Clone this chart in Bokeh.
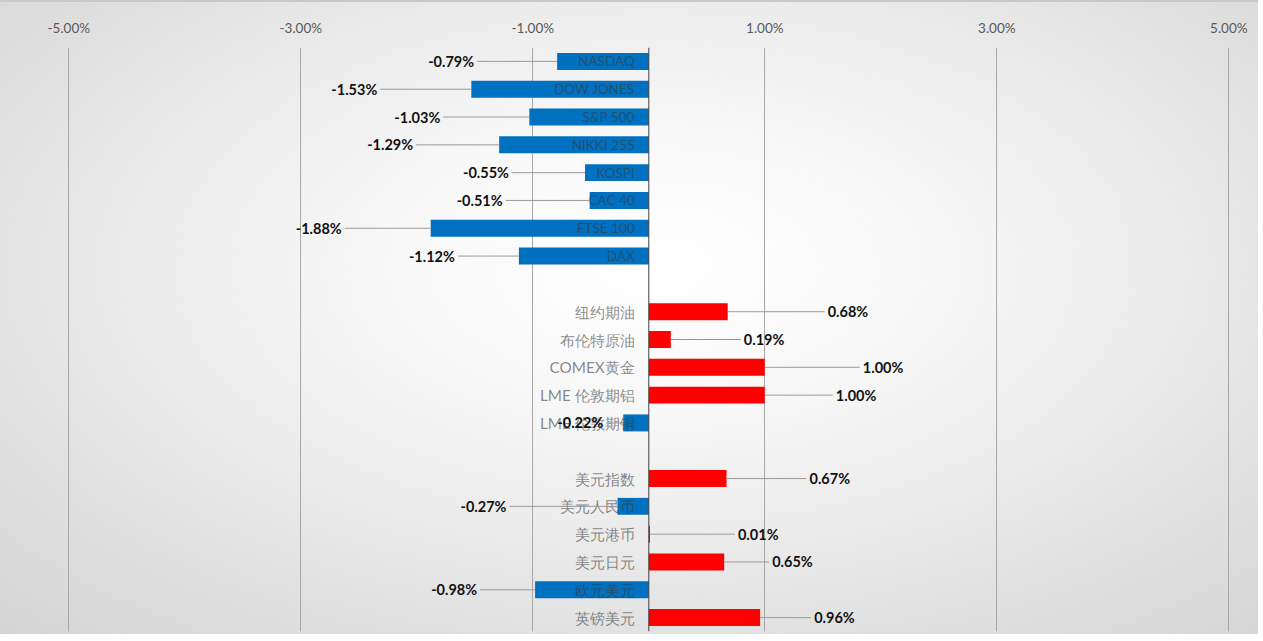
from bokeh.plotting import figure
from bokeh.models import FixedTicker, PrintfTickFormatter, Range1d, Span, ColumnDataSource
from bokeh.core.properties import value
from bokeh.embed import file_html
from bokeh.resources import INLINE

# ---- data (percent) ----
categories = ["NASDAQ", "DOW JONES", "S&P 500", "NIKKI 255", "KOSPI", "CAC 40", "FTSE 100", "DAX",
              "",
              "纽约期油", "布伦特原油", "COMEX黄金", "LME 伦敦期铝", "LME 伦敦期铜",
              "",
              "美元指数", "美元人民币", "美元港币", "美元日元", "欧元美元", "英镑美元"]
values = [-0.79, -1.53, -1.03, -1.29, -0.55, -0.51, -1.88, -1.12,
          None,
          0.68, 0.19, 1.00, 1.00, -0.22,
          None,
          0.67, -0.27, 0.01, 0.65, -0.98, 0.96]
tick_values = [-5, -3, -1, 1, 3, 5]

# ---- layout (label gap from bar end, px) ----
label_gap_px = [83, 94, 89, 86, 76, 87, 89, 64,
                0,
                100, 73, 98, 71, 20,
                0,
                83, 111, 88, 48, 58, 54]

W, H = 1258, 634
ML, MR, MT, MB = 18, 8, 45, 5
PX = 116.0
x_start = -(648.3 - ML) / PX
x_end = x_start + (W - ML - MR) / PX

p = figure(width=W, height=H, output_backend="svg", toolbar_location=None,
           x_axis_location="above", y_axis_location=None,
           x_range=Range1d(x_start, x_end), y_range=Range1d(len(categories) - 0.5, -0.5),
           min_border_left=ML, min_border_right=MR, min_border_top=MT, min_border_bottom=MB)
p.background_fill_alpha = 0
p.border_fill_alpha = 0
p.outline_line_color = None
p.styles = {"background": "radial-gradient(ellipse 75% 80% at 52% 42%, #ffffff 0%, #f7f7f7 30%, #d4d4d4 100%)",
            "border-top": "2px solid #c8c8c8"}

ax = p.xaxis[0]
ax.ticker = FixedTicker(ticks=tick_values)
ax.formatter = PrintfTickFormatter(format="%.2f%%")
ax.axis_line_color = None
ax.major_tick_line_color = None
ax.minor_tick_line_color = None
ax.major_tick_out = 0
ax.major_label_standoff = 12
ax.major_label_text_color = "#595959"
ax.major_label_text_font = "Lato"
ax.major_label_text_font_size = "13.5px"
p.xgrid.grid_line_color = "#a8a8a8"
p.ygrid.grid_line_color = None

rows = [i for i, v in enumerate(values) if v is not None]
vals = [values[i] for i in rows]
colors = ["#0070C0" if v < 0 else "#FF0000" for v in vals]
cats = [categories[i] for i in rows]
sizes = ["15.3px" if any(ord(ch) > 0x2E80 for ch in c) else "13.6px" for c in cats]
src = ColumnDataSource(dict(y=rows, v=vals, c=colors, cat=cats, fs=sizes,
                            lab=["%.2f%%" % v for v in vals]))

p.hbar(y="y", left=0, right="v", height=0.61, fill_color="c", line_color=None, source=src)

p.add_layout(Span(location=0, dimension="height", line_color="#404040", line_width=1))

# category labels next to the axis
p.text(x=0, y="y", text="cat", source=src, x_offset=-14, text_align="right", text_baseline="middle",
       text_font=value("Lato"), text_font_size="fs", text_color="#3a3a3a", text_alpha=0.6)

# value labels with leader lines
lx, l0, l1, align = [], [], [], []
for i, v in zip(rows, vals):
    g = label_gap_px[i] / PX
    if v < 0:
        lx.append(v - g)
        l0.append(v - g + 3 / PX)
        align.append("right")
    else:
        lx.append(v + g)
        l0.append(v + g - 3 / PX)
        align.append("left")
    l1.append(v)
lsrc = ColumnDataSource(dict(y=rows, lx=lx, l0=l0, l1=l1, al=align, lab=src.data["lab"]))
p.segment(x0="l0", x1="l1", y0="y", y1="y", line_color="#9a9a9a", line_width=1, source=lsrc)
p.text(x="lx", y="y", text="lab", text_align="al", text_baseline="middle", source=lsrc,
       text_font=value("Lato"), text_font_style="bold", text_font_size="14.5px", text_color="#111111")

open("out.html", "w").write(file_html(p, INLINE))
